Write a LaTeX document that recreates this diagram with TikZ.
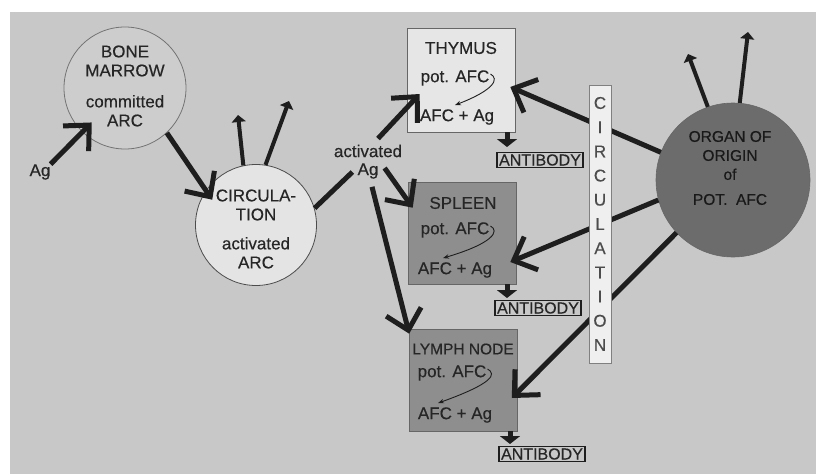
\documentclass[tikz,border=0pt]{standalone}
\usepackage{fontspec}
\setmainfont{Liberation Sans}[FakeBold=0.4]
\usetikzlibrary{arrows.meta,calc}
\definecolor{bgc}{HTML}{C8C8C8}
\definecolor{ink}{HTML}{1E1E1E}
\definecolor{txt}{HTML}{262626}
\definecolor{bmfill}{HTML}{CDCDCD}
\definecolor{circfill}{HTML}{E4E4E4}
\definecolor{thyfill}{HTML}{E6E6E6}
\definecolor{darkbox}{HTML}{8E8E8E}
\definecolor{organfill}{HTML}{6C6C6C}
\definecolor{colfill}{HTML}{EFEFEF}
\tikzset{
 lbl/.style={text=txt, font=\fontsize{17}{19}\selectfont, inner sep=0pt},
 big/.style={draw=ink, line width=5pt, -{Straight Barb[length=19pt,width=36pt]}},
 link/.style={draw=ink, line width=5pt},
 sprout/.style={draw=ink, line width=4pt, -{Triangle[length=7pt,width=14pt]}},
 drop/.style={draw=ink, line width=5pt, -{Triangle[length=8pt,width=20pt]}},
 hook/.style={draw=ink, line width=0.9pt, -{Stealth[length=6pt,width=4.5pt]}},
 organbox/.style={draw=black!60, line width=0.6pt, minimum width=108pt, minimum height=102pt, inner sep=0pt},
 abbox/.style={draw=ink, line width=1.3pt, inner sep=2pt, font=\fontsize{16}{16}\selectfont, text=txt},
}
\begin{document}
\begin{tikzpicture}[x=1pt,y=-1pt]
\useasboundingbox (0,0) rectangle (816,474);
\fill[white] (0,0) rectangle (816,474);
\fill[bgc] (10,12) rectangle (816,474);

% circles
\node[circle, minimum size=122pt, draw=black!55, line width=0.8pt, fill=bmfill, inner sep=0pt] (bm) at (125,88) {};
\node[lbl, align=center] (bmtxt) at (125,86) {BONE\\MARROW\\[12pt]committed\\ARC};
\node[circle, minimum size=121pt, draw=black!70, line width=0.8pt, fill=circfill, inner sep=0pt] (circ) at (256,225) {};
\node[lbl, align=center] (circtxt) at (256,229) {CIRCULA-\\TION\\[10pt]activated\\ARC};
\node[circle, minimum size=154pt, draw=black!60, line width=0.6pt, fill=organfill, inner sep=0pt] (org) at (733,180) {};
\node[lbl, align=center, text=black!90, font=\fontsize{15.5}{19}\selectfont] (orgtxt) at (730,168) {ORGAN OF\\ORIGIN\\of\\[6pt]POT.\ \ AFC};

% labels
\node[lbl] (ag) at (40,172) {Ag};
\node[lbl] (actl) at (368,151) {activated};
\node[lbl] (acta) at (368,171) {Ag};

% organ boxes
\node[organbox, fill=thyfill, minimum height=104pt] (thy) at (461,80) {};
\node[organbox, fill=darkbox] (spl) at (462,233) {};
\node[organbox, fill=darkbox] (lym) at (463.5,380) {};

\node[lbl] (thyT) at (461,48) {THYMUS};
\node[lbl] (thyP) at (455,78) {pot. AFC};
\node[lbl] (thyA) at (457,117) {AFC + Ag};
\node[lbl] (splT) at (463,203) {SPLEEN};
\node[lbl] (splP) at (455,230) {pot. AFC};
\node[lbl] (splA) at (455,270) {AFC + Ag};
\node[lbl, font=\fontsize{15.5}{19}\selectfont] (lymT) at (463,349) {LYMPH NODE};
\node[lbl] (lymP) at (452,373) {pot. AFC};
\node[lbl] (lymA) at (455,415) {AFC + Ag};

\draw[hook] ($(thyP.east)+(1,-4)$) .. controls +(9,5) and (494,90) .. ($(thyA.north)+(-2,-4)$);
\draw[hook] ($(splP.east)+(1,-4)$) .. controls +(9,5) and (494,243) .. ($(splA.north)+(-12,-4)$);
\draw[hook] ($(lymP.east)+(1,-4)$) .. controls +(9,5) and (494,383) .. ($(lymA.north)+(-17,-4)$);

% antibody
\node[abbox] (ab1) at (540,160) {ANTIBODY};
\node[abbox] (ab2) at (538,308) {ANTIBODY};
\node[abbox] (ab3) at (542,454) {ANTIBODY};
\coordinate (d1) at (507,147);
\coordinate (d2) at (507,298);
\coordinate (d3) at (510,444);
\draw[drop] (thy.south -| d1) -- (d1);
\draw[drop] (spl.south -| d2) -- (d2);
\draw[drop] (lym.south -| d3) -- (d3);

% left connectors
\draw[big] (ag.north east) -- ($(bm.center)!0.78!(bm.226)$);
\draw[big] (bm.-47) -- ($(circ.center)!0.83!(circ.150)$);
\coordinate (s1) at (238,115);
\coordinate (s2) at (289,101);
\draw[sprout] (circ.102) -- (s1);
\draw[sprout] (circ.81) -- (s2);
\draw[link] (circ.16) -- ($(acta.west)+(-5,1)$);
\draw[big] ($(actl.north)+(10,-6)$) -- ($(thy.west)+(13,14)$);
\draw[big] ($(acta.east)+(6,-3)$) -- ($(spl.north west)+(5,26)$);
\draw[big] ($(acta.south)+(4,8)$) -- ($(lym.north west)+(0,5)$);

% organ connectors
\draw[big] (org.159) -- ($(thy.east)+(-5,7)$);
\draw[big] (org.195) -- ($(spl.east)+(-6,29)$);
\draw[big] (org.223) -- ($(lym.east)+(-6,18)$);
\coordinate (s3) at (688,54);
\coordinate (s4) at (748,32);
\draw[sprout] (org.109) -- (s3);
\draw[sprout] (org.85) -- (s4);

% circulation column
\node[draw=black!50, line width=0.6pt, fill=colfill, minimum width=22pt, minimum height=278pt, inner sep=0pt] (col) at (600,224) {};
\foreach \ch [count=\i from 0] in {C,I,R,C,U,L,A,T,I,O,N}
  \node[lbl, text=black!70] (L\i) at (600,103+24.2*\i) {\ch};
\end{tikzpicture}
\end{document}
